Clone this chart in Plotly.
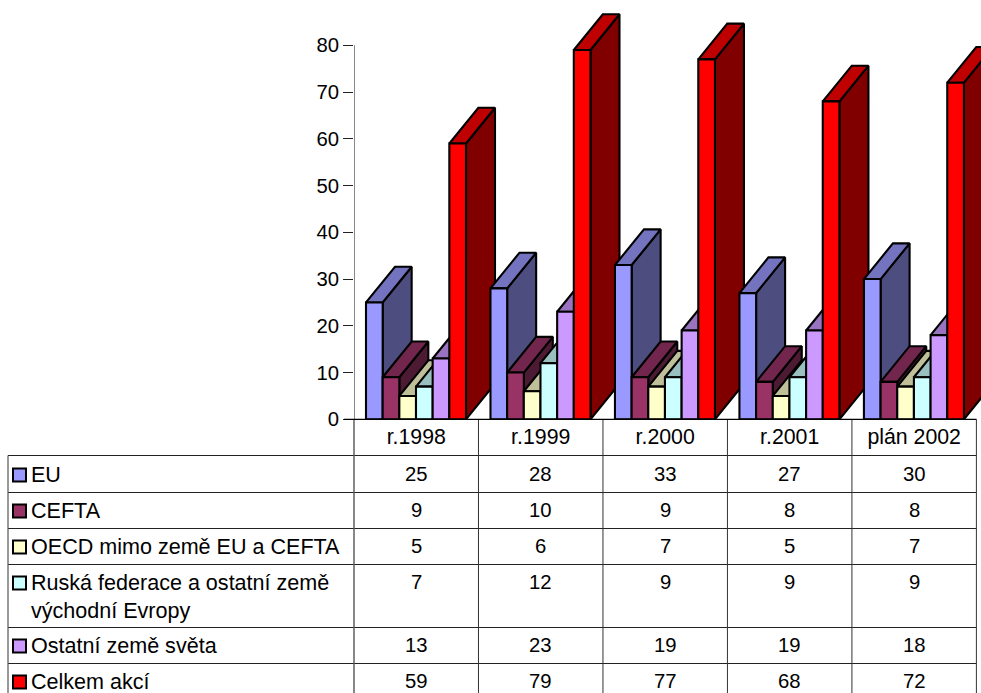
import plotly.graph_objects as go

categories = ["r.1998", "r.1999", "r.2000", "r.2001", "plán 2002"]
series_names = ["EU", "CEFTA", "OECD mimo země EU a CEFTA",
                "Ruská federace a ostatní země<br>východní Evropy",
                "Ostatní země světa", "Celkem akcí"]
eu = [25, 28, 33, 27, 30]
cefta = [9, 10, 9, 8, 8]
oecd = [5, 6, 7, 5, 7]
ruska = [7, 12, 9, 9, 9]
ostatni = [13, 23, 19, 19, 18]
celkem = [59, 79, 77, 68, 72]
series_values = [eu, cefta, oecd, ruska, ostatni, celkem]
y_ticks = [0, 10, 20, 30, 40, 50, 60, 70, 80]

front_colors = ["#9999FF", "#993366", "#FFFFCC", "#CCFFFF", "#CC99FF", "#FF0000"]
top_colors = ["#7373BF", "#73264D", "#BFBF99", "#99BFBF", "#9973BF", "#BF0000"]
side_colors = ["#4D4D80", "#4D1A33", "#808066", "#668080", "#664D80", "#800000"]

W, H = 981, 693
FONT = "Liberation Sans, Arial, sans-serif"
AX_L, AX_R, AX_TOP, AX_BOT = 354, 976.4, 45.3, 419.3
CAT_PX = (AX_R - AX_L) / 5
UNIT_PX = (AX_BOT - AX_TOP) / 80
BAR_W = 100 / 6 / CAT_PX
GAP = 12 / CAT_PX
DX = 29 / CAT_PX
DY = 35.7 / UNIT_PX
LW = 2.1


def px(x):
    return x / W


def py(y):
    return 1 - y / H


fig = go.Figure()
for i, cat in enumerate(categories):
    for j, vals in enumerate(series_values):
        v = vals[i]
        x0 = i - 0.5 + GAP + j * BAR_W
        x1 = x0 + BAR_W
        z = 1 + (i * 6 + j) * 2
        fig.add_trace(go.Scatter(
            x=[x1, x1 + DX, x1 + DX, x1, x1],
            y=[0, DY, v + DY, v, 0],
            mode="lines", line=dict(color="black", width=LW), fill="toself",
            fillcolor=side_colors[j], hoverinfo="skip", showlegend=False, zorder=z))
        fig.add_trace(go.Scatter(
            x=[x0, x1, x1 + DX, x0 + DX, x0],
            y=[v, v, v + DY, v + DY, v],
            mode="lines", line=dict(color="black", width=LW), fill="toself",
            fillcolor=top_colors[j], hoverinfo="skip", showlegend=False, zorder=z))
        fig.add_trace(go.Bar(
            x=[i], y=[v], width=BAR_W, offset=-0.5 + GAP + j * BAR_W,
            marker=dict(color=front_colors[j], line=dict(color="black", width=LW)),
            hoverinfo="skip", showlegend=False, zorder=z + 1))

# value axis line stops at the top tick
fig.add_trace(go.Scatter(x=[-0.5, -0.5], y=[y_ticks[0], y_ticks[-1]], mode="lines",
                         line=dict(color="#555555", width=1.4), hoverinfo="skip",
                         showlegend=False, cliponaxis=False))

shapes = []
annotations = []
LINE = dict(color="#222222", width=1)
row_lines = [455.5, 492.5, 528.5, 564.5, 627.5, 663.5]
for y in row_lines:
    shapes.append(dict(type="line", xref="paper", yref="paper", x0=px(8), x1=px(AX_R),
                       y0=py(y), y1=py(y), line=LINE, layer="below"))
shapes.append(dict(type="line", xref="paper", yref="paper", x0=px(8), x1=px(8),
                   y0=py(455.5), y1=0, line=dict(color="#555555", width=1.2)))
for i in range(len(categories) + 1):
    xp = AX_L + i * CAT_PX
    shapes.append(dict(type="line", xref="paper", yref="paper", x0=px(xp), x1=px(xp),
                       y0=py(AX_BOT), y1=0,
                       line=dict(color="#555555" if i == 0 else "#333333",
                                 width=1.4 if i == 0 else 1)))

text_rows = [475, 511, 547, 583, 646, 682]
for j, name in enumerate(series_names):
    yc = text_rows[j]
    shapes.append(dict(type="rect", xref="paper", yref="paper", x0=px(13), x1=px(26),
                       y0=py(yc - 6.5), y1=py(yc + 6.5), fillcolor=front_colors[j],
                       line=dict(color="black", width=2)))
    annotations.append(dict(text=name, xref="paper", yref="paper", x=px(31),
                            y=py(yc - 12.7), xanchor="left", yanchor="top", showarrow=False,
                            align="left", font=dict(family=FONT, size=21.55, color="black"),
                            borderpad=0, borderwidth=0))
    for i, val in enumerate(series_values[j]):
        annotations.append(dict(text=str(val), xref="x", yref="paper", x=i,
                                y=py(yc - 1), xanchor="center", yanchor="middle",
                                showarrow=False,
                                font=dict(family=FONT, size=20.3, color="black")))

x_end = -0.5 + (W - AX_L) / CAT_PX
y_end = AX_BOT / UNIT_PX
fig.update_layout(
    width=W, height=H, margin=dict(l=0, r=0, t=0, b=0, autoexpand=False),
    paper_bgcolor="white", plot_bgcolor="rgba(0,0,0,0)", barmode="overlay",
    showlegend=False, shapes=shapes, annotations=annotations,
    xaxis=dict(domain=[px(AX_L), 1], range=[-0.5, x_end], tickmode="array",
               tickvals=list(range(5)), ticktext=categories, ticks="outside", ticklen=0,
               tickcolor="black", showgrid=False, zeroline=False, showline=False,
               tickfont=dict(family=FONT, size=21.3, color="black"), ticklabelstandoff=-2),
    yaxis=dict(domain=[py(AX_BOT), 1], range=[0, y_end], tickmode="array",
               tickvals=y_ticks, ticks="outside", ticklen=10,
               tickcolor="#222222", tickwidth=1, showgrid=False, zeroline=False,
               showline=False,
               tickfont=dict(family=FONT, size=20.3, color="black"), ticklabelstandoff=0),
)
shapes_axis = dict(type="line", xref="paper", yref="paper", x0=px(344), x1=px(AX_R),
                   y0=py(AX_BOT), y1=py(AX_BOT), line=dict(color="black", width=1.2))
fig.add_shape(shapes_axis)
fig.write_html("out.html", config={"displayModeBar": False},
               post_script="document.documentElement.style.overflow='hidden';document.body.style.margin='0';window.dispatchEvent(new Event('resize'));")
